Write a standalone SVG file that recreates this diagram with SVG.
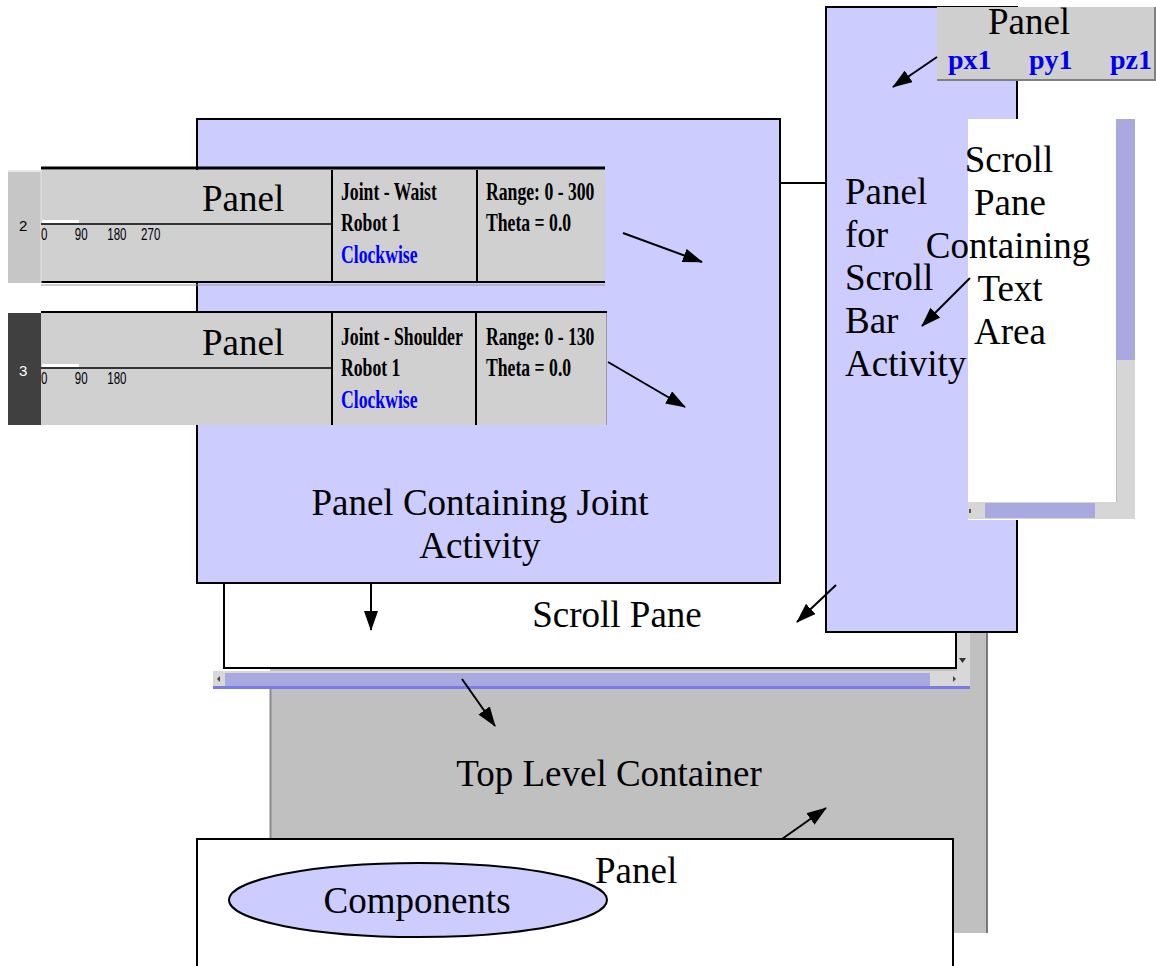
<svg xmlns="http://www.w3.org/2000/svg" width="1156" height="966" viewBox="0 0 1156 966">
<defs>
<marker id="ah" viewBox="0 0 20 14" refX="19" refY="7" markerWidth="20" markerHeight="14" markerUnits="userSpaceOnUse" orient="auto">
<path d="M0,0 L20,7 L0,14 z" fill="#000"/>
</marker>
</defs>
<style>
.lbl{font-family:"Liberation Serif","Times New Roman",serif;font-size:37px;fill:#000}
.lav{fill:#ccccff;stroke:#000;stroke-width:2}
.row{fill:#d0d0d0}
.b{font-family:"Liberation Serif","Times New Roman",serif;font-weight:bold;font-size:26px;fill:#000}
.blue{fill:#0000ff}
.tick{font-family:"Liberation Sans",Arial,sans-serif;font-size:16px;fill:#000}
.num{font-family:"Liberation Sans",Arial,sans-serif;font-size:15px}
.pxl{font-family:"Liberation Serif","Times New Roman",serif;font-weight:bold;font-size:28px;fill:#0000ee}
.conn{stroke:#000;stroke-width:2;fill:none;marker-end:url(#ah)}
.sbthumb{fill:#a9a9df}
</style>
<rect width="1156" height="966" fill="#fff"/>

<g id="top-level-container">
<rect x="270" y="600" width="717" height="333" fill="#c0c0c0"/>
<line x1="270.5" y1="688" x2="270.5" y2="839" stroke="#8a8a8a" stroke-width="2"/>
<line x1="987" y1="632" x2="987" y2="933" stroke="#7a7a7a" stroke-width="2"/>
<text class="lbl" x="609" y="786" text-anchor="middle">Top Level Container</text>
</g>

<g id="scroll-pane">
<rect x="224" y="583" width="732" height="85" fill="#fff"/>
<path d="M224,583 L224,668 L956,668 L956,632" fill="none" stroke="#000" stroke-width="2"/>
<rect x="957" y="632" width="13" height="40" fill="#d8d8d8"/>
<path d="M959,658 L966,658 L962.5,663 z" fill="#333"/>
<rect x="213" y="671" width="757" height="18" fill="#d8d8d8"/>
<rect x="225" y="673" width="705" height="13" class="sbthumb"/>
<path d="M217,679 L220,676 L220,682 z" fill="#444"/>
<path d="M953,676 L953,682 L956,679 z" fill="#444"/>
<rect x="213" y="686" width="757" height="3" fill="#7b7be6"/>
<text class="lbl" x="617" y="627" text-anchor="middle">Scroll Pane</text>
</g>

<g id="panel-joint-activity">
<rect x="197" y="119" width="583" height="464" class="lav"/>
<text class="lbl" x="480" y="515" text-anchor="middle">Panel Containing Joint</text>
<text class="lbl" x="480" y="558" text-anchor="middle">Activity</text>
</g>

<g id="panel-scroll-bar-activity">
<rect x="826" y="7" width="191" height="625" class="lav"/>
<text class="lbl" x="845" y="204">Panel</text>
<text class="lbl" x="845" y="247">for</text>
<text class="lbl" x="845" y="290">Scroll</text>
<text class="lbl" x="845" y="333">Bar</text>
<text class="lbl" x="845" y="376">Activity</text>
</g>

<g id="panel-pxyz">
<rect x="937" y="7" width="218" height="73" fill="#cfcfcf"/>
<path d="M937,80 L1155,80 L1155,7" fill="none" stroke="#808080" stroke-width="2"/>
<text class="lbl" x="1029" y="34" text-anchor="middle">Panel</text>
<text class="pxl" x="948" y="69">px1</text>
<text class="pxl" x="1029" y="69">py1</text>
<text class="pxl" x="1110" y="69">pz1</text>
</g>

<g id="scroll-pane-text-area">
<rect x="968" y="119" width="167" height="401" fill="#fff"/>
<rect x="1116" y="119" width="19" height="241" class="sbthumb"/>
<rect x="1116" y="360" width="19" height="142" fill="#d6d6d6"/>
<line x1="1116.5" y1="360" x2="1116.5" y2="502" stroke="#bdbdbd"/>
<rect x="968" y="502" width="167" height="17" fill="#d6d6d6"/>
<rect x="985" y="503" width="110" height="15" class="sbthumb"/>
<rect x="969" y="509" width="2" height="4" fill="#555"/>
<text class="lbl" x="1009" y="172" text-anchor="middle">Scroll</text>
<text class="lbl" x="1010" y="215" text-anchor="middle">Pane</text>
<text class="lbl" x="1008" y="258" text-anchor="middle">Containing</text>
<text class="lbl" x="1010" y="301" text-anchor="middle">Text</text>
<text class="lbl" x="1010" y="344" text-anchor="middle">Area</text>
</g>

<g id="joint-row-waist">
<rect x="8" y="170" width="33" height="113" fill="#c6c6c6"/>
<line x1="8" y1="171" x2="41" y2="171" stroke="#e8e8e8" stroke-width="2"/>
<rect x="41" y="170" width="564" height="112" class="row"/>
<line x1="41" y1="168" x2="605" y2="168" stroke="#000" stroke-width="3"/>
<line x1="41" y1="282" x2="605" y2="282" stroke="#000" stroke-width="2"/>
<line x1="41" y1="285" x2="605" y2="285" stroke="#9a9a9a" stroke-width="1"/>
<line x1="41" y1="170" x2="41" y2="283" stroke="#e6e6e6" stroke-width="1"/>
<line x1="332" y1="170" x2="332" y2="283" stroke="#000" stroke-width="2"/>
<line x1="477" y1="170" x2="477" y2="283" stroke="#000" stroke-width="2"/>
<rect x="42" y="220" width="37" height="3" fill="#fff"/>
<line x1="41" y1="224" x2="332" y2="224" stroke="#000" stroke-width="1.5"/>
<text class="num" x="19" y="231">2</text>
<g transform="translate(0,240) scale(0.72,1)">
<text class="tick" x="57" y="0">0</text>
<text class="tick" x="104" y="0">90</text>
<text class="tick" x="149" y="0">180</text>
<text class="tick" x="196" y="0">270</text>
</g>
<text class="lbl" x="202" y="211">Panel</text>
<g transform="translate(341,0) scale(0.68,1)">
<text class="b" x="0" y="200">Joint - Waist</text>
<text class="b" x="0" y="231">Robot 1</text>
<text class="b blue" x="0" y="263">Clockwise</text>
</g>
<g transform="translate(486,0) scale(0.68,1)">
<text class="b" x="0" y="200">Range: 0 - 300</text>
<text class="b" x="0" y="231">Theta = 0.0</text>
</g>
</g>

<g id="joint-row-shoulder">
<rect x="8" y="313" width="33" height="112" fill="#404040"/>
<rect x="41" y="313" width="566" height="112" class="row"/>
<line x1="41" y1="312" x2="607" y2="312" stroke="#000" stroke-width="2"/>
<line x1="606.5" y1="313" x2="606.5" y2="425" stroke="#9a9a9a" stroke-width="1"/>
<line x1="332" y1="313" x2="332" y2="425" stroke="#000" stroke-width="2"/>
<line x1="476" y1="313" x2="476" y2="425" stroke="#000" stroke-width="2"/>
<rect x="42" y="364" width="37" height="3" fill="#fff"/>
<line x1="41" y1="368" x2="332" y2="368" stroke="#000" stroke-width="1.5"/>
<text class="num" x="19" y="376" fill="#fff">3</text>
<g transform="translate(0,384) scale(0.72,1)">
<text class="tick" x="57" y="0">0</text>
<text class="tick" x="104" y="0">90</text>
<text class="tick" x="149" y="0">180</text>
</g>
<text class="lbl" x="202" y="355">Panel</text>
<g transform="translate(341,0) scale(0.68,1)">
<text class="b" x="0" y="345">Joint - Shoulder</text>
<text class="b" x="0" y="376">Robot 1</text>
<text class="b blue" x="0" y="408">Clockwise</text>
</g>
<g transform="translate(486,0) scale(0.68,1)">
<text class="b" x="0" y="345">Range: 0 - 130</text>
<text class="b" x="0" y="376">Theta = 0.0</text>
</g>
</g>

<g id="panel-components">
<rect x="197" y="839" width="756" height="140" fill="#fff" stroke="#000" stroke-width="2"/>
<text class="lbl" x="595" y="883">Panel</text>
</g>

<g id="components">
<ellipse cx="418" cy="900" rx="189" ry="37" class="lav"/>
<text class="lbl" x="417" y="913" text-anchor="middle">Components</text>
</g>

<g id="connectors">
<line x1="780" y1="183" x2="826" y2="183" stroke="#000" stroke-width="2"/>
<line class="conn" x1="623" y1="233" x2="702" y2="262"/>
<line class="conn" x1="608" y1="362" x2="685" y2="407"/>
<line class="conn" x1="371" y1="583" x2="371" y2="630"/>
<line class="conn" x1="836" y1="585" x2="797" y2="622"/>
<line class="conn" x1="462" y1="679" x2="495" y2="726"/>
<line class="conn" x1="937" y1="57" x2="893" y2="87"/>
<line class="conn" x1="970" y1="278" x2="922" y2="326"/>
<line class="conn" x1="782" y1="839" x2="826" y2="808"/>
</g>
</svg>
